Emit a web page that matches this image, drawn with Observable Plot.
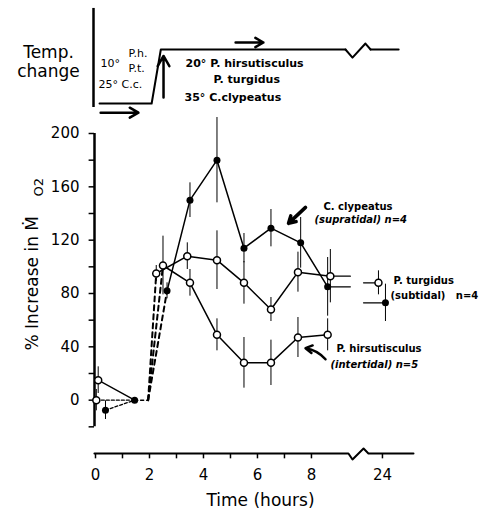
<!DOCTYPE html>
<html><head><meta charset="utf-8">
<script src="https://cdn.jsdelivr.net/npm/d3@7"></script>
<script src="https://cdn.jsdelivr.net/npm/@observablehq/plot@0.6"></script>
<style>
body{margin:0;background:#fff;}
#chart{width:480px;height:517px;overflow:hidden;}
svg{display:block;}
</style></head><body><div id="chart"></div>
<script>
// ---------- data ----------
// Temperature step (°C change) over time (hours)
const tempHours = [0.15, 2.08, 2.42, 9.26];
const tempDelta = [0, 0, 10, 10];
const tempTailHours = [26];      // line continues past the axis break
// % increase in MO2 — before the temperature change
const hirPreHours = [0.1, 1.45];  const hirPrePct = [15, 0];   const hirPreErr = [10, 0];
const turPreHours = [0.03, 1.45]; const turPrePct = [0, 0];    const turPreErr = [8, 0];
const clyPreHours = [0.37, 1.45]; const clyPrePct = [-7.5, 0]; const clyPreErr = [7, 0];
// transition (dashed)
const transHours = [1.45, 1.95];
const transPct = [0, 0];
// after the temperature change
const hirHours = [2.5, 3.5, 4.5, 5.5, 6.5, 7.5, 8.6];
const hirPct   = [101, 88, 49, 28, 28, 47, 49];
const hirErr   = [22, 10, 12, 19, 17, 15, 12];
const turHours = [2.25, 3.4, 4.5, 5.5, 6.5, 7.5, 8.7, 24];
const turPct   = [95, 108, 105, 88, 68, 96, 93, 88];
const turErr   = [6, 10, 22, 16, 9, 15, 20, 9];
const clyHours = [2.65, 3.5, 4.5, 5.5, 6.5, 7.6, 8.6, 24];
const clyPct   = [82, 150, 180, 114, 129, 118, 85, 73];
const clyErr   = [6, 13, 32, 11, 14, 19, 22, 14];
// axis ticks
const xTickHours = [0, 2, 4, 6, 8, 24];
const xMinorHours = [1, 3, 5, 7];
const yTicks = [0, 40, 80, 120, 160, 200];
const yMinor = [-20, 20, 60, 100, 140, 180];

// ---------- layout ----------
const ML = 95, MR = 67, PX = 27;            // px per axis unit
const XDOM = [0, 11.78];
const BRK_L = 9.44, BRK_R = 9.93;
const posX = (t, off = 0) => t <= 10 ? t : 10.63 + (t - 24) * 0.3 + off / PX;
const font = "DejaVu Sans";

function rows(hours, pct, err, off = 0) {
  return hours.map((t, i) => ({t, x: posX(t, off), y: pct[i], lo: pct[i] - err[i], hi: pct[i] + err[i]}));
}
const hirPre = rows(hirPreHours, hirPrePct, hirPreErr);
const turPre = rows(turPreHours, turPrePct, turPreErr);
const clyPre = rows(clyPreHours, clyPrePct, clyPreErr);
const trans = rows(transHours, transPct, transPct.map(() => 0));
const hir = rows(hirHours, hirPct, hirErr);
const tur = rows(turHours, turPct, turErr, -4);
const cly = rows(clyHours, clyPct, clyErr, 3);
const early = s => s.filter(d => d.t < 10);
const late = s => s.filter(d => d.t >= 10);
const tEnd = trans[trans.length - 1];
const rises = [hir, tur, cly].map(s => [tEnd, s[0]]);
function stubs(s) {
  const e = early(s), l = late(s);
  if (!l.length) return [];
  const a = e[e.length - 1], b = l[0];
  return [[{x: a.x, y: a.y}, {x: BRK_L, y: a.y}], [{x: BRK_R, y: b.y}, {x: b.x, y: b.y}]];
}
const stubSegs = [...stubs(tur), ...stubs(cly)];

// text helper (page coords -> frame offsets)
function label(txt, px, py, topOff, o = {}) {
  return Plot.text([txt], {frameAnchor: "top-left", dx: px - ML, dy: py - topOff, textAnchor: "start",
    lineAnchor: "bottom", fontSize: 10, fontWeight: "bold", fill: "black", ...o});
}

// ---------- top panel ----------
const TOP_H = 115;
const tempRows = tempHours.map((t, i) => ({x: posX(t), y: tempDelta[i]}));
const zig = [{x: 9.26, y: 10}, {x: 9.52, y: 8.5}, {x: 10.0, y: 11.1}, {x: 10.19, y: 10}];
const tail = [{x: 10.19, y: 10}, ...tempTailHours.map(t => ({x: posX(t), y: 10}))];
const topPanel = Plot.plot({
  width: 480, height: TOP_H, marginLeft: ML, marginRight: MR, marginTop: 0, marginBottom: 0,
  x: {domain: XDOM, axis: null}, y: {domain: [-2.22, 19.07], axis: null},
  style: {fontFamily: font, background: "white", overflow: "visible"},
  marks: [
    Plot.ruleX([0], {y1: -0.74, y2: 17.6, dx: -2, strokeWidth: 2.5}),
    Plot.line(tempRows, {x: "x", y: "y", strokeWidth: 2}),
    Plot.line(zig, {x: "x", y: "y", strokeWidth: 2}),
    Plot.line(tail, {x: "x", y: "y", strokeWidth: 2}),
    Plot.arrow([0], {x1: 2.52, y1: 1.1, x2: 2.52, y2: 8.8, strokeWidth: 2.5, headLength: 7}),
    Plot.arrow([0], {x1: 5.19, y1: 11.3, x2: 6.22, y2: 11.3, strokeWidth: 2.5, headLength: 6}),
    Plot.arrow([0], {x1: 0.19, y1: -1.7, x2: 1.59, y2: -1.7, strokeWidth: 2.5, headLength: 6}),
    label("Temp.", 48, 57, 0, {textAnchor: "middle", fontSize: 17, fontWeight: "normal"}),
    label("change", 48, 76, 0, {textAnchor: "middle", fontSize: 17, fontWeight: "normal"}),
    label("10°", 100, 66, 0, {fontSize: 11, fontWeight: "normal"}),
    label("P.h.", 128, 56, 0, {fontSize: 11, fontWeight: "normal"}),
    label("P.t.", 128, 71, 0, {fontSize: 11, fontWeight: "normal"}),
    label("25° C.c.", 98, 87, 0, {fontSize: 11, fontWeight: "normal"}),
    label("20° P. hirsutisculus", 185, 66, 0, {fontSize: 11}),
    label("P. turgidus", 213, 82, 0, {fontSize: 11}),
    label("35° C.clypeatus", 184, 100, 0, {fontSize: 11})
  ]
});

// ---------- main panel ----------
const BOT_TOP = TOP_H;
const xAxisPath = [{x: -0.04, y: -40}, {x: 9.37, y: -40}, {x: 9.52, y: -44.5}, {x: 9.93, y: -36.3}, {x: 10.11, y: -40}, {x: 11.78, y: -40}];
const xLabel = d => String(d);
const openStyle = {r: 3.5, fill: "white", stroke: "black", strokeWidth: 1.5};
const allRows = [...hirPre, ...turPre, ...clyPre, ...hir, ...tur, ...cly].filter(d => d.hi > d.lo);
const mainPanel = Plot.plot({
  width: 480, height: 402, marginLeft: ML, marginRight: MR, marginTop: 18, marginBottom: 64,
  x: {domain: XDOM, axis: null}, y: {domain: [-40, 200], axis: null},
  style: {fontFamily: font, background: "white", overflow: "visible"},
  marks: [
    Plot.ruleX([0], {y1: -20, y2: 200, dx: -1, strokeWidth: 2.5}),
    Plot.ruleY([...yTicks, ...yMinor], {y: d => d, x1: -0.2, x2: 0, dx: -1, strokeWidth: 1.5}),
    Plot.text(yTicks, {x: 0, y: d => d, text: d => String(d), dx: -16, textAnchor: "end", fontSize: 15}),
    Plot.line(xAxisPath, {x: "x", y: "y", strokeWidth: 2}),
    Plot.ruleX([...xTickHours, ...xMinorHours].map(t => posX(t)), {x: d => d, y1: -40, y2: -44, strokeWidth: 1.5}),
    Plot.text(xTickHours, {x: d => posX(d), y: -40, text: xLabel, dy: 22, fontSize: 15}),
    Plot.text(["Time (hours)"], {frameAnchor: "bottom", dx: 6, dy: 52, fontSize: 17}),
    Plot.text(["% Increase in Ṁ"], {frameAnchor: "top-left", dx: 37 - ML, dy: 350 - BOT_TOP - 18, rotate: -90, textAnchor: "start", lineAnchor: "bottom", fontSize: 17}),
    Plot.text(["O2"], {frameAnchor: "top-left", dx: 42 - ML, dy: 196 - BOT_TOP - 18, rotate: -90, textAnchor: "start", lineAnchor: "bottom", fontSize: 13}),
    // error bars
    Plot.ruleX(allRows, {x: "x", y1: "lo", y2: "hi", strokeWidth: 1}),
    // pre-change lines
    Plot.line(hirPre, {x: "x", y: "y", strokeWidth: 1.3}),
    Plot.line(turPre, {x: "x", y: "y", strokeWidth: 1.3, strokeDasharray: "3,2"}),
    Plot.line(clyPre, {x: "x", y: "y", strokeWidth: 1.3, strokeDasharray: "3,2"}),
    // transition dashed lines
    Plot.line(trans, {x: "x", y: "y", strokeWidth: 1.5, strokeDasharray: "3,3"}),
    ...rises.map(seg => Plot.line(seg, {x: "x", y: "y", strokeWidth: 2, strokeDasharray: "5,4"})),
    // response lines
    Plot.line(early(hir), {x: "x", y: "y", strokeWidth: 1.5}),
    Plot.line(early(tur), {x: "x", y: "y", strokeWidth: 1.5}),
    Plot.line(early(cly), {x: "x", y: "y", strokeWidth: 1.5}),
    ...stubSegs.map(seg => Plot.line(seg, {x: "x", y: "y", strokeWidth: 1.3})),
    // markers
    Plot.dot([...hirPre.slice(0, 1), ...turPre.slice(0, 1), ...hir, ...tur], {x: "x", y: "y", ...openStyle}),
    Plot.dot([...clyPre, ...cly], {x: "x", y: "y", r: 3.5, fill: "black"}),
    // annotations
    label("C. clypeatus", 323, 209, BOT_TOP + 18),
    label("(supratidal) n=4", 314, 222, BOT_TOP + 18, {fontStyle: "italic"}),
    label("P. turgidus", 393, 283, BOT_TOP + 18),
    label("(subtidal)   n=4", 390, 298, BOT_TOP + 18),
    label("P. hirsutisculus", 336, 351, BOT_TOP + 18),
    label("(intertidal) n=5", 330, 367, BOT_TOP + 18, {fontStyle: "italic"}),
    Plot.arrow([0], {x1: 7.78, y1: 144.6, x2: 7.15, y2: 132.6, strokeWidth: 3.5, headLength: 6}),
    Plot.arrow([0], {x1: 8.52, y1: 30.7, x2: 7.78, y2: 39, bend: -20, strokeWidth: 2.5, headLength: 6})
  ]
});
document.getElementById("chart").append(topPanel, mainPanel);
</script></body></html>
